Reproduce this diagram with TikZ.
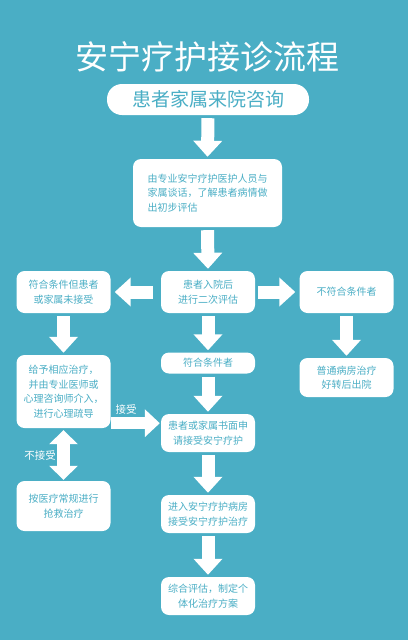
\documentclass[tikz,border=0pt]{standalone}
\usepackage{fontspec}
\newfontfamily\cjk{Noto Sans CJK SC}
\usetikzlibrary{arrows.meta}
\definecolor{bg}{HTML}{4AAEC5}

\begin{document}
\begin{tikzpicture}[x=1pt, y=-1pt,
    box/.style={fill=white, text=bg, rounded corners=8pt, align=center, inner sep=0pt,
        minimum width=94pt, font=\cjk\fontsize{10}{14.5}\selectfont},
    arr/.style={draw=white, line width=13pt, -{Triangle[width=28pt,length=16pt]},
        shorten <=3pt, shorten >=2pt},
    dbl/.style={draw=white, line width=13pt,
        {Triangle[width=28pt,length=14pt]}-{Triangle[width=28pt,length=14pt]},
        shorten <=2pt, shorten >=1pt},
    lbl/.style={text=white, font=\cjk\fontsize{10.5}{12}\selectfont}]
    % 背景
    \fill[bg] (0,0) rectangle (408,640);
    \useasboundingbox (0,0) rectangle (408,640);

    % 标题
    \node[text=white, font=\cjk\fontsize{33}{36}\selectfont] (title) at (207,57) {安宁疗护接诊流程};

    % 中间一列
    \node[box, minimum width=202pt, minimum height=31pt, rounded corners=15pt,
        font=\cjk\fontsize{19}{20}\selectfont] (ask) at (208,99.5) {患者家属来院咨询};
    \node[box, align=left, minimum width=149pt, minimum height=68pt] (talk) at (207.5,193)
        {由专业安宁疗护医护人员与\\家属谈话，了解患者病情做\\出初步评估};
    \node[box, minimum height=42pt] (eval) at (208,292) {患者入院后\\进行二次评估};
    \node[box, minimum height=21pt] (fit) at (208,363) {符合条件者};
    \node[box, minimum height=38pt] (apply) at (208,433) {患者或家属书面申\\请接受安宁疗护};
    \node[box, minimum height=38pt] (ward) at (208,514) {进入安宁疗护病房\\接受安宁疗护治疗};
    \node[box, minimum height=38pt] (plan) at (208,596) {综合评估，制定个\\体化治疗方案};

    % 左边一列
    \node[box, minimum height=42pt] (refuse) at (63.5,292) {符合条件但患者\\或家属未接受};
    \node[box, minimum height=73pt] (care) at (63.5,391.5)
        {给予相应治疗，\\并由专业医师或\\心理咨询师介入，\\进行心理疏导};
    \node[box, minimum height=50pt] (rescue) at (63.5,506) {按医疗常规进行\\抢救治疗};

    % 右边一列
    \node[box, minimum height=42pt] (unfit) at (346.5,292) {不符合条件者};
    \node[box, minimum height=39pt] (normal) at (346.5,377.5) {普通病房治疗\\好转后出院};

    % 箭头
    \foreach \a/\b in {ask/talk, talk/eval, eval/fit, fit/apply, apply/ward, ward/plan,
        refuse/care, unfit/normal}
        \draw[arr] (\a.south) -- (\b.north);
    \draw[arr, shorten <=8pt, shorten >=4pt] (eval.west) -- (refuse.east);
    \draw[arr, shorten >=4pt] (eval.east) -- (unfit.west);
    \draw[arr, line width=12pt, -{Triangle[width=27pt,length=15pt]}, shorten <=0pt, shorten >=1pt]
        ([yshift=5pt]care.south east) -- ([yshift=5pt]care.south east -| apply.west);
    \draw[dbl] (care.south) -- (rescue.north);

    % 标签
    \node[lbl] (yes) at (126,409) {接受};
    \node[lbl] (no) at (40,455) {不接受};
\end{tikzpicture}
\end{document}
